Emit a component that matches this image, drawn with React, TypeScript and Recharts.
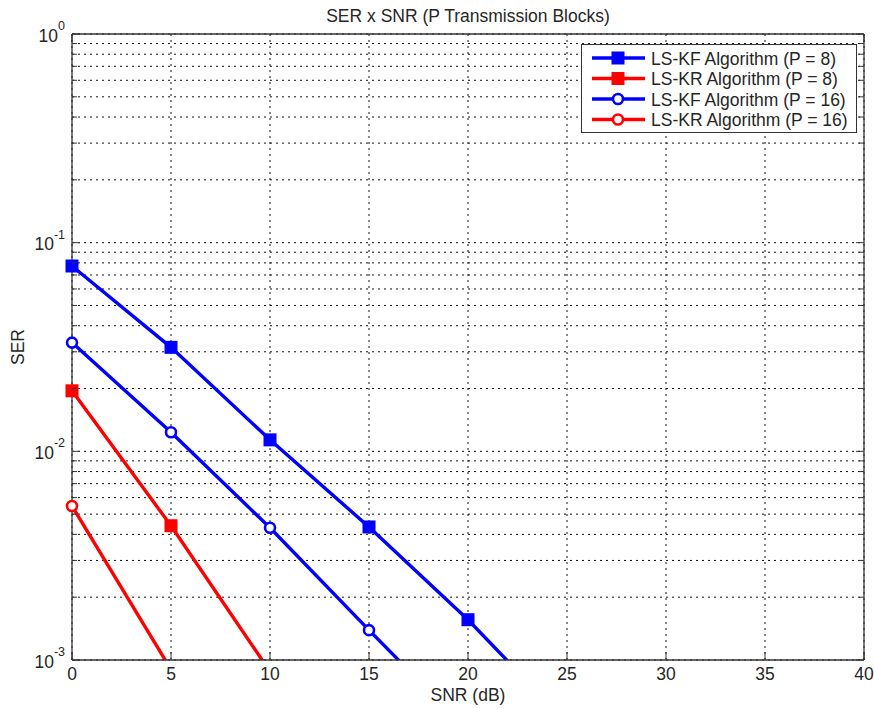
import React from 'react';
import { LineChart, Line, XAxis, YAxis, CartesianGrid, Legend, Label } from 'recharts';

// ---- data ----
const snrDb = [0, 5, 10, 15, 20, 25];
const lsKfP8 = [0.0773, 0.0315, 0.01135, 0.00434, 0.00156, 0.0005];
const lsKrP8 = [0.0195, 0.0044, 0.00088, null, null, null];
const lsKfP16 = [0.0332, 0.01234, 0.0043, 0.00139, 0.00046, null];
const lsKrP16 = [0.00547, 0.0009, null, null, null, null];

const xTicks = [0, 5, 10, 15, 20, 25, 30, 35, 40];
const yTicks = [
  0.001, 0.002, 0.003, 0.004, 0.005, 0.006, 0.007, 0.008, 0.009,
  0.01, 0.02, 0.03, 0.04, 0.05, 0.06, 0.07, 0.08, 0.09,
  0.1, 0.2, 0.3, 0.4, 0.5, 0.6, 0.7, 0.8, 0.9,
  1,
];

const seriesNames = [
  'LS-KF Algorithm (P = 8)',
  'LS-KR Algorithm (P = 8)',
  'LS-KF Algorithm (P = 16)',
  'LS-KR Algorithm (P = 16)',
];
const seriesKeys = ['kf8', 'kr8', 'kf16', 'kr16'];
const seriesColors = ['#0000FF', '#FF0000', '#0000FF', '#FF0000'];
const seriesMarkers = ['square', 'square', 'circle', 'circle'];

const data = snrDb.map((s, i) => ({
  snr: s,
  kf8: lsKfP8[i],
  kr8: lsKrP8[i],
  kf16: lsKfP16[i],
  kr16: lsKrP16[i],
}));

const FONT = '"Liberation Sans", Arial, Helvetica, sans-serif';
const TEXT = '#262626';
const AXIS = '#333333';
const FS = 17.5;
const LW = 3.4;

const isMajor = (v: number) => Math.abs(Math.log10(v) - Math.round(Math.log10(v))) < 1e-6;

const makeDot = (color: string, marker: string) => (props: any) => {
  const { cx, cy, value, index } = props;
  if (cx == null || cy == null || value == null || value < 0.001) return <g key={`d${index}`} />;
  if (marker === 'square') {
    return <rect key={`d${index}`} x={cx - 6.5} y={cy - 6.5} width={13} height={13} fill={color} />;
  }
  return <circle key={`d${index}`} cx={cx} cy={cy} r={5} fill="#fff" stroke={color} strokeWidth={2.6} />;
};

const BottomTick = (props: any) => {
  const { x, y, payload } = props;
  return (
    <g>
      <line x1={x} x2={x} y1={y} y2={y - 8} stroke={AXIS} />
      <text x={x} y={y + 20} textAnchor="middle" fontSize={FS} fill={TEXT} fontFamily={FONT}>
        {payload.value}
      </text>
    </g>
  );
};

const TopTick = (props: any) => {
  const { x, y } = props;
  return <line x1={x} x2={x} y1={y} y2={y + 8} stroke={AXIS} />;
};

const LeftTick = (props: any) => {
  const { x, y, payload } = props;
  const v = payload.value as number;
  const major = isMajor(v);
  return (
    <g>
      <line x1={x} x2={x + (major ? 8 : 5)} y1={y} y2={y} stroke={AXIS} />
      {major ? (
        <text x={x - 7} y={y + 7.5} textAnchor="end" fontSize={FS} fill={TEXT} fontFamily={FONT}>
          10
          <tspan dy={-11.5} fontSize={12.5}>
            {String(Math.round(Math.log10(v)))}
          </tspan>
        </text>
      ) : null}
    </g>
  );
};

const RightTick = (props: any) => {
  const { x, y, payload } = props;
  const major = isMajor(payload.value as number);
  return <line x1={x} x2={x - (major ? 8 : 5)} y1={y} y2={y} stroke={AXIS} />;
};

const renderLegend = () => (
  <svg width={277} height={90} style={{ display: 'block' }}>
    <rect x={0.5} y={0.5} width={275} height={88} fill="#fff" stroke={AXIS} />
    {seriesNames.map((name, i) => {
      const cy = 14 + i * 20.5;
      const color = seriesColors[i];
      return (
        <g key={name}>
          <line x1={11} x2={64} y1={cy} y2={cy} stroke={color} strokeWidth={LW} />
          {seriesMarkers[i] === 'square' ? (
            <rect x={37 - 6.5} y={cy - 6.5} width={13} height={13} fill={color} />
          ) : (
            <circle cx={37} cy={cy} r={5} fill="#fff" stroke={color} strokeWidth={2.6} />
          )}
          <text x={70} y={cy + 6.5} fontSize={FS} fill={TEXT} fontFamily={FONT}>
            {name}
          </text>
        </g>
      );
    })}
  </svg>
);

export default function App() {
  return (
    <div style={{ position: 'absolute', left: 0, top: 0, background: '#fff', fontFamily: FONT }}>
      <LineChart width={874} height={709} data={data} margin={{ top: 0, right: 0, bottom: 0, left: 0 }}>
        <CartesianGrid stroke="#111" strokeDasharray="2 4" strokeWidth={1} />
        <XAxis
          dataKey="snr"
          type="number"
          domain={[0, 40]}
          ticks={xTicks}
          interval={0}
          height={49}
          tickSize={0}
          tickMargin={0}
          tickLine={false}
          axisLine={{ stroke: AXIS, strokeWidth: 1.3 }}
          tick={<BottomTick />}
        >
          <Label value="SNR (dB)" position="insideBottom" offset={8} fontSize={FS} fill={TEXT} fontFamily={FONT} />
        </XAxis>
        <XAxis
          xAxisId="top"
          orientation="top"
          type="number"
          domain={[0, 40]}
          ticks={xTicks}
          interval={0}
          height={34}
          tickSize={0}
          tickMargin={0}
          tickLine={false}
          axisLine={{ stroke: AXIS, strokeWidth: 1.3 }}
          tick={<TopTick />}
        >
          <Label value="SER x SNR (P Transmission Blocks)" position="insideTop" offset={9.5} fontSize={FS} fill={TEXT} fontFamily={FONT} />
        </XAxis>
        <YAxis
          scale="log"
          type="number"
          domain={[0.001, 1]}
          allowDataOverflow
          ticks={yTicks}
          interval={0}
          width={72}
          tickSize={0}
          tickMargin={0}
          tickLine={false}
          axisLine={{ stroke: AXIS, strokeWidth: 1.3 }}
          tick={<LeftTick />}
        >
          <Label value="SER" angle={-90} position="insideLeft" offset={17.5} style={{ textAnchor: 'middle' }} fontSize={FS} fill={TEXT} fontFamily={FONT} />
        </YAxis>
        <YAxis
          yAxisId="right"
          orientation="right"
          scale="log"
          type="number"
          domain={[0.001, 1]}
          allowDataOverflow
          ticks={yTicks}
          interval={0}
          width={10}
          tickSize={0}
          tickMargin={0}
          tickLine={false}
          axisLine={{ stroke: AXIS, strokeWidth: 1.3 }}
          tick={<RightTick />}
        />
        {seriesKeys.map((k, i) => (
          <Line
            key={k}
            dataKey={k}
            name={seriesNames[i]}
            type="linear"
            stroke={seriesColors[i]}
            strokeWidth={LW}
            dot={makeDot(seriesColors[i], seriesMarkers[i])}
            activeDot={false}
            isAnimationActive={false}
            connectNulls={false}
          />
        ))}
        <Legend
          content={renderLegend}
          layout="horizontal"
          verticalAlign="middle"
          align="center"
          wrapperStyle={{ position: 'absolute', left: 581, top: 44, width: 277, height: 90 }}
        />
      </LineChart>
    </div>
  );
}
